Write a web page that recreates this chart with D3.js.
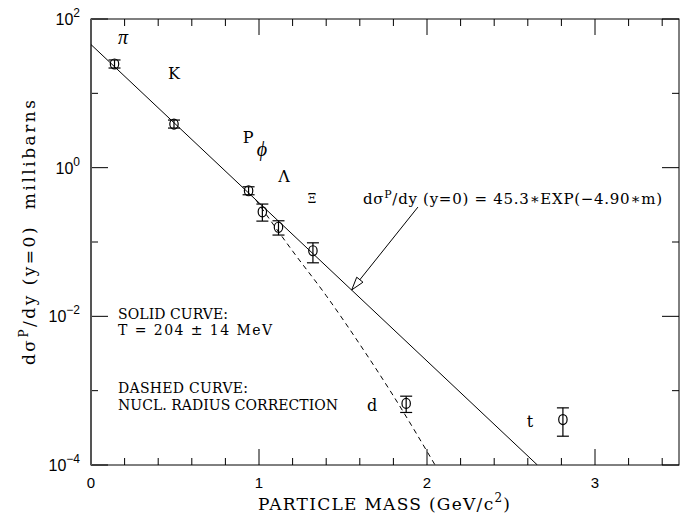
<!DOCTYPE html>
<meta charset="utf-8">
<script src="https://d3js.org/d3.v7.min.js"></script>
<style>
  body { margin: 0; background: #fff; }
  .serif { font-family: "DejaVu Serif", "Liberation Serif", serif; }
  .greek { font-family: "Liberation Serif", "DejaVu Serif", serif; }
  .sans { font-family: "Liberation Sans", "DejaVu Sans", sans-serif; }
</style>
<div id="my_dataviz"></div>
<script>

// particle yields at y=0
var particles = ["\u03c0", "K", "P", "\u03d5", "\u039b", "\u039e", "d", "t"];
var masses    = [0.140, 0.494, 0.938, 1.020, 1.116, 1.321, 1.876, 2.809];
var yields    = [24.8, 3.86, 0.489, 0.255, 0.158, 0.0762, 6.73e-4, 4.09e-4];
var errLow    = [21.9, 3.41, 0.432, 0.191, 0.124, 0.0525, 5.09e-4, 2.44e-4];
var errHigh   = [28.1, 4.37, 0.553, 0.324, 0.193, 0.0975, 8.43e-4, 5.87e-4];

// solid exponential fit (straight in log space) and dashed corrected curve
var fitMass   = [0, 2.657];
var fitValue  = [45.3, 1.0e-4];
var dashMass  = [0.98, 1.2, 1.4, 1.6, 1.8, 2.048];
var dashValue = [0.372, 0.0755, 0.019, 4.2e-3, 8.5e-4, 1.0e-4];

// axis ticks
var xMajor = [0, 1, 2, 3];
var xMinor = [0.2, 0.4, 0.6, 0.8, 1.2, 1.4, 1.6, 1.8, 2.2, 2.4, 2.6, 2.8, 3.2, 3.4];
var yMajorExp = [2, 0, -2, -4];
var yMinorExp = [1, -1, -3];

var margin = {top: 19, right: 4, bottom: 49, left: 91},
    width = 683 - margin.left - margin.right,
    height = 514 - margin.top - margin.bottom;

var svg = d3.select("#my_dataviz")
  .append("svg")
    .attr("width", 683)
    .attr("height", 514);

var x = d3.scaleLinear().domain([0, 3.5]).range([margin.left, margin.left + width]);
var y = d3.scaleLog().domain([1e-4, 1e2]).range([margin.top + height, margin.top]);

var x0 = x(0), x1 = x(3.5), y0 = y(1e-4), y1 = y(1e2);

// ticks, drawn inward on all four sides
var ticks = svg.append("g").attr("stroke", "#000").attr("stroke-width", 1);
function vtick(v, len) {
  ticks.append("line").attr("x1", x(v)).attr("x2", x(v)).attr("y1", y0).attr("y2", y0 - len);
  ticks.append("line").attr("x1", x(v)).attr("x2", x(v)).attr("y1", y1).attr("y2", y1 + len);
}
function htick(e, len) {
  var yy = y(Math.pow(10, e));
  ticks.append("line").attr("x1", x0).attr("x2", x0 + len).attr("y1", yy).attr("y2", yy);
  ticks.append("line").attr("x1", x1).attr("x2", x1 - len).attr("y1", yy).attr("y2", yy);
}
xMajor.forEach(function(v) { vtick(v, 16); });
xMinor.forEach(function(v) { vtick(v, 7); });
yMajorExp.forEach(function(e) { htick(e, 17); });
yMinorExp.forEach(function(e) { htick(e, 7); });

// frame
svg.append("rect")
  .attr("x", x0).attr("y", y1)
  .attr("width", x1 - x0).attr("height", y0 - y1)
  .attr("fill", "none").attr("stroke", "#000").attr("stroke-width", 1);
svg.append("line")
  .attr("x1", x0).attr("x2", x0).attr("y1", y1).attr("y2", y0)
  .attr("stroke", "#555").attr("stroke-width", 2);

// tick labels
svg.append("g").selectAll("text")
  .data(xMajor).enter().append("text")
    .attr("class", "sans")
    .attr("x", function(d) { return x(d); })
    .attr("y", 488)
    .attr("text-anchor", "middle")
    .attr("font-size", 15)
    .text(function(d) { return d; });

var yl = svg.append("g").selectAll("text")
  .data(yMajorExp).enter().append("text")
    .attr("class", "sans")
    .attr("x", 80)
    .attr("y", function(d) { return y(Math.pow(10, d)) + 6; })
    .attr("text-anchor", "end")
    .attr("font-size", 16);
yl.append("tspan").text("10");
yl.append("tspan").attr("dy", -8).attr("font-size", 12)
  .text(function(d) { return d < 0 ? "\u2212" + (-d) : d; });

// axis titles
svg.append("text")
  .attr("class", "serif")
  .attr("x", 258).attr("y", 510)
  .attr("font-size", 17)
  .attr("textLength", 252).attr("lengthAdjust", "spacing")
  .html("PARTICLE MASS (GeV/c<tspan dy='-8' font-size='12'>2</tspan><tspan dy='8'>)</tspan>");

svg.append("text")
  .attr("class", "serif")
  .attr("transform", "translate(35,365) rotate(-90)")
  .attr("font-size", 17)
  .attr("xml:space", "preserve")
  .attr("textLength", 265).attr("lengthAdjust", "spacing")
  .html("d\u03c3<tspan dy='-7' font-size='12'>P</tspan><tspan dy='7'>/dy (y=0)  millibarns</tspan>");

// clip to the plot area
svg.append("defs").append("clipPath").attr("id", "clip")
  .append("rect").attr("x", x0).attr("y", y1).attr("width", x1 - x0).attr("height", y0 - y1);

var plot = svg.append("g").attr("clip-path", "url(#clip)");

var line = d3.line()
  .x(function(d) { return x(d[0]); })
  .y(function(d) { return y(d[1]); });

plot.append("path")
  .attr("d", line(d3.zip(fitMass, fitValue)))
  .attr("fill", "none").attr("stroke", "#000").attr("stroke-width", 1);

plot.append("path")
  .attr("d", line.curve(d3.curveMonotoneX)(d3.zip(dashMass, dashValue)))
  .attr("fill", "none").attr("stroke", "#000").attr("stroke-width", 1)
  .attr("stroke-dasharray", "5,4");

// data points with error bars
var pts = plot.selectAll("g.pt")
  .data(d3.range(masses.length)).enter().append("g")
    .attr("stroke", "#000").attr("fill", "none").attr("stroke-width", 1.2);
pts.append("line")
  .attr("x1", function(i) { return x(masses[i]); })
  .attr("x2", function(i) { return x(masses[i]); })
  .attr("y1", function(i) { return y(errLow[i]); })
  .attr("y2", function(i) { return y(errHigh[i]); });
pts.append("line")
  .attr("x1", function(i) { return x(masses[i]) - 6; })
  .attr("x2", function(i) { return x(masses[i]) + 6; })
  .attr("y1", function(i) { return y(errLow[i]); })
  .attr("y2", function(i) { return y(errLow[i]); });
pts.append("line")
  .attr("x1", function(i) { return x(masses[i]) - 6; })
  .attr("x2", function(i) { return x(masses[i]) + 6; })
  .attr("y1", function(i) { return y(errHigh[i]); })
  .attr("y2", function(i) { return y(errHigh[i]); });
pts.append("ellipse")
  .attr("cx", function(i) { return x(masses[i]); })
  .attr("cy", function(i) { return y(yields[i]); })
  .attr("rx", 4.2).attr("ry", 5);

// particle names, placed in data coordinates
var labelPos = [[0.19, 55.5], [0.494, 18.8], [0.935, 2.58], [1.018, 1.73],
                [1.149, 0.77], [1.315, 0.40], [1.673, 6.4e-4], [2.613, 3.9e-4]];
svg.append("g").selectAll("text")
  .data(particles).enter().append("text")
    .attr("class", function(d) { return (d == "\u03c0" || d == "\u03d5") ? "greek" : "serif"; })
    .attr("x", function(d, i) { return x(labelPos[i][0]); })
    .attr("y", function(d, i) { return y(labelPos[i][1]) + 6; })
    .attr("text-anchor", "middle")
    .attr("font-size", function(d) { return d == "\u039e" ? 12 : (d == "\u03c0" || d == "\u03d5") ? 20 : 16; })
    .attr("font-style", function(d) { return (d == "\u03c0" || d == "\u03d5") ? "italic" : null; })
    .text(function(d) { return d; });

// formula with arrow pointing at the solid curve
svg.append("text")
  .attr("class", "serif")
  .attr("x", x(1.619)).attr("y", y(0.39) + 6)
  .attr("font-size", 15)
  .attr("xml:space", "preserve")
  .attr("textLength", 299).attr("lengthAdjust", "spacing")
  .html("d\u03c3<tspan dy='-6' font-size='11'>P</tspan><tspan dy='6'>/dy (y=0) = 45.3\u2217EXP(\u22124.90\u2217m)</tspan>");

var ax0 = x(1.946), ay0 = y(0.295), ax1 = x(1.552), ay1 = y(0.0227);
svg.append("line")
  .attr("x1", ax0).attr("y1", ay0).attr("x2", ax1).attr("y2", ay1)
  .attr("stroke", "#000").attr("stroke-width", 1);
var ang = Math.atan2(ay1 - ay0, ax1 - ax0), hl = 13, hw = 4;
var bx = ax1 - hl * Math.cos(ang), by = ay1 - hl * Math.sin(ang);
svg.append("path")
  .attr("d", "M" + ax1 + "," + ay1 +
             "L" + (bx - hw * Math.sin(ang)) + "," + (by + hw * Math.cos(ang)) +
             "L" + (bx + hw * Math.sin(ang)) + "," + (by - hw * Math.cos(ang)) + "Z")
  .attr("fill", "#fff").attr("stroke", "#000").attr("stroke-width", 1);

// notes
var notes = [["SOLID CURVE:", 0.0110, 110], ["T = 204 \u00b1 14 MeV", 6.73e-3, 154],
             ["DASHED CURVE:", 1.11e-3, 130], ["NUCL. RADIUS CORRECTION", 6.58e-4, 220]];
svg.append("g").selectAll("text")
  .data(notes).enter().append("text")
    .attr("class", "serif")
    .attr("x", x(0.161))
    .attr("y", function(d) { return y(d[1]) + 6; })
    .attr("font-size", 14)
    .attr("xml:space", "preserve")
    .attr("textLength", function(d) { return d[2]; })
    .attr("lengthAdjust", "spacing")
    .text(function(d) { return d[0]; });

</script>
